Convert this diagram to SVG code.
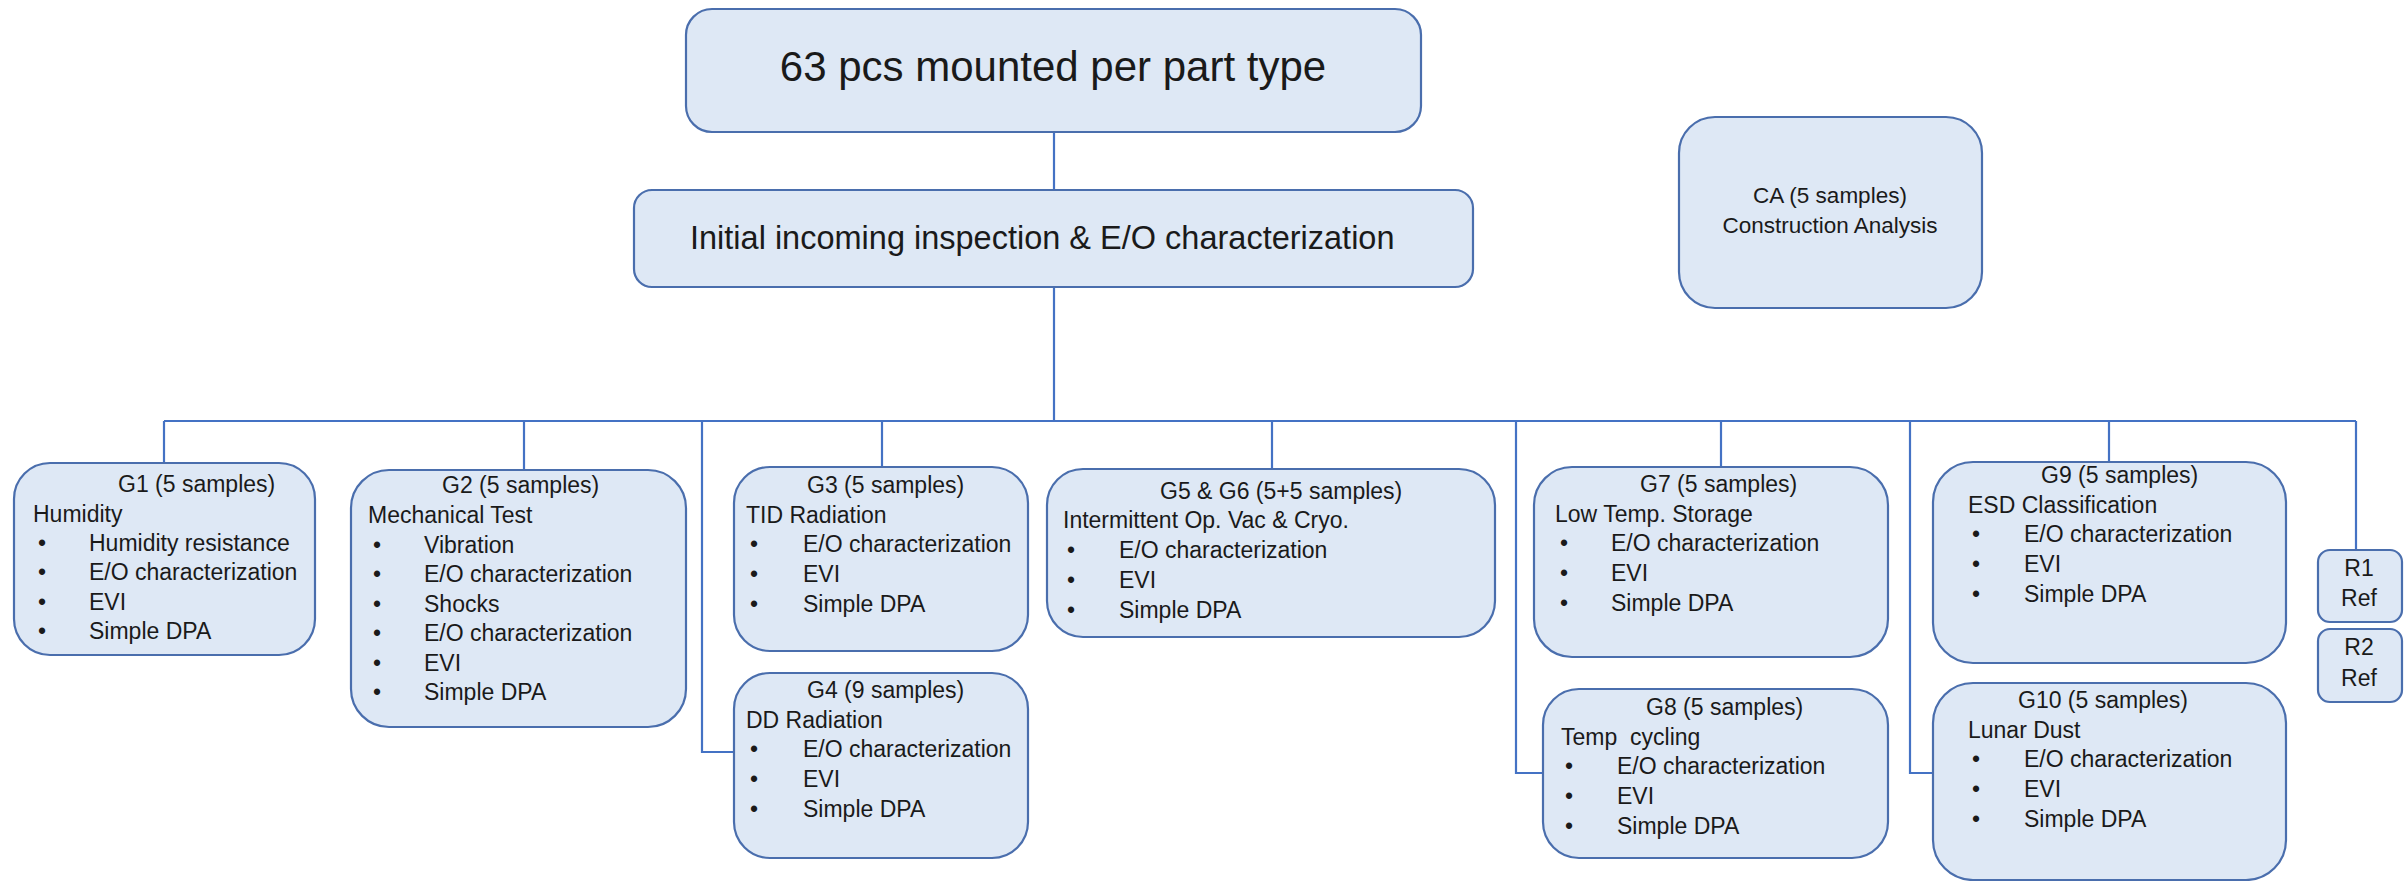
<svg xmlns="http://www.w3.org/2000/svg" width="2406" height="881" viewBox="0 0 2406 881">
<style>
.bg{fill:#ffffff}
.box{fill:#DEE8F5;stroke:#4A6EAD;stroke-width:2.2}
.con{fill:none;stroke:#4472C4;stroke-width:2.2}
text{font-family:"Liberation Sans",Arial,sans-serif;fill:#1a1a1a}
.t{font-size:23px}
.c{text-anchor:middle}
.pre{white-space:pre}
</style>
<rect class="bg" x="0" y="0" width="2406" height="881"/>
<g id="connectors">
<path class="con" d="M1054 132V190"/>
<path class="con" d="M1054 287V421"/>
<path class="con" d="M164 421H2356"/>
<path class="con" d="M164 421V463"/>
<path class="con" d="M524 421V470"/>
<path class="con" d="M882 421V467"/>
<path class="con" d="M1272 421V469"/>
<path class="con" d="M1721 421V467"/>
<path class="con" d="M2109 421V462"/>
<path class="con" d="M2356 421V550"/>
<path class="con" d="M702 421V752H734"/>
<path class="con" d="M1516 421V773H1543"/>
<path class="con" d="M1910 421V773H1933"/>
</g>
<g id="top">
<rect class="box" x="686" y="9" width="735" height="123" rx="26"/>
<text x="1053" y="81" class="c" style="font-size:42px">63 pcs mounted per part type</text>
</g>
<g id="initial">
<rect class="box" x="634" y="190" width="839" height="97" rx="18"/>
<text x="690" y="249" style="font-size:32.5px">Initial incoming inspection &amp; E/O characterization</text>
</g>
<g id="ca">
<rect class="box" x="1679" y="117" width="303" height="191" rx="36"/>
<text x="1830" y="203" class="t c" style="font-size:22.5px">CA (5 samples)</text>
<text x="1830" y="233" class="t c" style="font-size:22.5px">Construction Analysis</text>
</g>
<g id="g1">
<rect class="box" x="14" y="463" width="301" height="192" rx="36"/>
<text class="t" x="118" y="492">G1 (5 samples)</text>
<text class="t" x="33" y="522">Humidity</text>
<text class="t" x="38" y="551">•</text><text class="t" x="89" y="551">Humidity resistance</text>
<text class="t" x="38" y="580">•</text><text class="t" x="89" y="580">E/O characterization</text>
<text class="t" x="38" y="610">•</text><text class="t" x="89" y="610">EVI</text>
<text class="t" x="38" y="639">•</text><text class="t" x="89" y="639">Simple DPA</text>
</g>
<g id="g2">
<rect class="box" x="351" y="470" width="335" height="257" rx="38"/>
<text class="t" x="442" y="493">G2 (5 samples)</text>
<text class="t" x="368" y="523">Mechanical Test</text>
<text class="t" x="373" y="553">•</text><text class="t" x="424" y="553">Vibration</text>
<text class="t" x="373" y="582">•</text><text class="t" x="424" y="582">E/O characterization</text>
<text class="t" x="373" y="612">•</text><text class="t" x="424" y="612">Shocks</text>
<text class="t" x="373" y="641">•</text><text class="t" x="424" y="641">E/O characterization</text>
<text class="t" x="373" y="671">•</text><text class="t" x="424" y="671">EVI</text>
<text class="t" x="373" y="700">•</text><text class="t" x="424" y="700">Simple DPA</text>
</g>
<g id="g3">
<rect class="box" x="734" y="467" width="294" height="184" rx="36"/>
<text class="t" x="807" y="493">G3 (5 samples)</text>
<text class="t" x="746" y="523">TID Radiation</text>
<text class="t" x="750" y="552">•</text><text class="t" x="803" y="552">E/O characterization</text>
<text class="t" x="750" y="582">•</text><text class="t" x="803" y="582">EVI</text>
<text class="t" x="750" y="612">•</text><text class="t" x="803" y="612">Simple DPA</text>
</g>
<g id="g4">
<rect class="box" x="734" y="673" width="294" height="185" rx="36"/>
<text class="t" x="807" y="698">G4 (9 samples)</text>
<text class="t" x="746" y="728">DD Radiation</text>
<text class="t" x="750" y="757">•</text><text class="t" x="803" y="757">E/O characterization</text>
<text class="t" x="750" y="787">•</text><text class="t" x="803" y="787">EVI</text>
<text class="t" x="750" y="817">•</text><text class="t" x="803" y="817">Simple DPA</text>
</g>
<g id="g5g6">
<rect class="box" x="1047" y="469" width="448" height="168" rx="36"/>
<text class="t" x="1160" y="499">G5 &amp; G6 (5+5 samples)</text>
<text class="t" x="1063" y="528">Intermittent Op. Vac &amp; Cryo.</text>
<text class="t" x="1067" y="558">•</text><text class="t" x="1119" y="558">E/O characterization</text>
<text class="t" x="1067" y="588">•</text><text class="t" x="1119" y="588">EVI</text>
<text class="t" x="1067" y="618">•</text><text class="t" x="1119" y="618">Simple DPA</text>
</g>
<g id="g7">
<rect class="box" x="1534" y="467" width="354" height="190" rx="38"/>
<text class="t" x="1640" y="492">G7 (5 samples)</text>
<text class="t" x="1555" y="522">Low Temp. Storage</text>
<text class="t" x="1560" y="551">•</text><text class="t" x="1611" y="551">E/O characterization</text>
<text class="t" x="1560" y="581">•</text><text class="t" x="1611" y="581">EVI</text>
<text class="t" x="1560" y="611">•</text><text class="t" x="1611" y="611">Simple DPA</text>
</g>
<g id="g8">
<rect class="box" x="1543" y="689" width="345" height="169" rx="36"/>
<text class="t" x="1646" y="715">G8 (5 samples)</text>
<text class="t pre" x="1561" y="745" xml:space="preserve">Temp  cycling</text>
<text class="t" x="1565" y="774">•</text><text class="t" x="1617" y="774">E/O characterization</text>
<text class="t" x="1565" y="804">•</text><text class="t" x="1617" y="804">EVI</text>
<text class="t" x="1565" y="834">•</text><text class="t" x="1617" y="834">Simple DPA</text>
</g>
<g id="g9">
<rect class="box" x="1933" y="462" width="353" height="201" rx="40"/>
<text class="t" x="2041" y="483">G9 (5 samples)</text>
<text class="t" x="1968" y="513">ESD Classification</text>
<text class="t" x="1972" y="542">•</text><text class="t" x="2024" y="542">E/O characterization</text>
<text class="t" x="1972" y="572">•</text><text class="t" x="2024" y="572">EVI</text>
<text class="t" x="1972" y="602">•</text><text class="t" x="2024" y="602">Simple DPA</text>
</g>
<g id="g10">
<rect class="box" x="1933" y="683" width="353" height="197" rx="40"/>
<text class="t" x="2018" y="708">G10 (5 samples)</text>
<text class="t" x="1968" y="738">Lunar Dust</text>
<text class="t" x="1972" y="767">•</text><text class="t" x="2024" y="767">E/O characterization</text>
<text class="t" x="1972" y="797">•</text><text class="t" x="2024" y="797">EVI</text>
<text class="t" x="1972" y="827">•</text><text class="t" x="2024" y="827">Simple DPA</text>
</g>
<g id="r1">
<rect class="box" x="2318" y="550" width="84" height="72" rx="12"/>
<text class="t c" x="2359" y="576">R1</text>
<text class="t c" x="2359" y="606">Ref</text>
</g>
<g id="r2">
<rect class="box" x="2318" y="629" width="84" height="73" rx="12"/>
<text class="t c" x="2359" y="655">R2</text>
<text class="t c" x="2359" y="686">Ref</text>
</g>
</svg>
